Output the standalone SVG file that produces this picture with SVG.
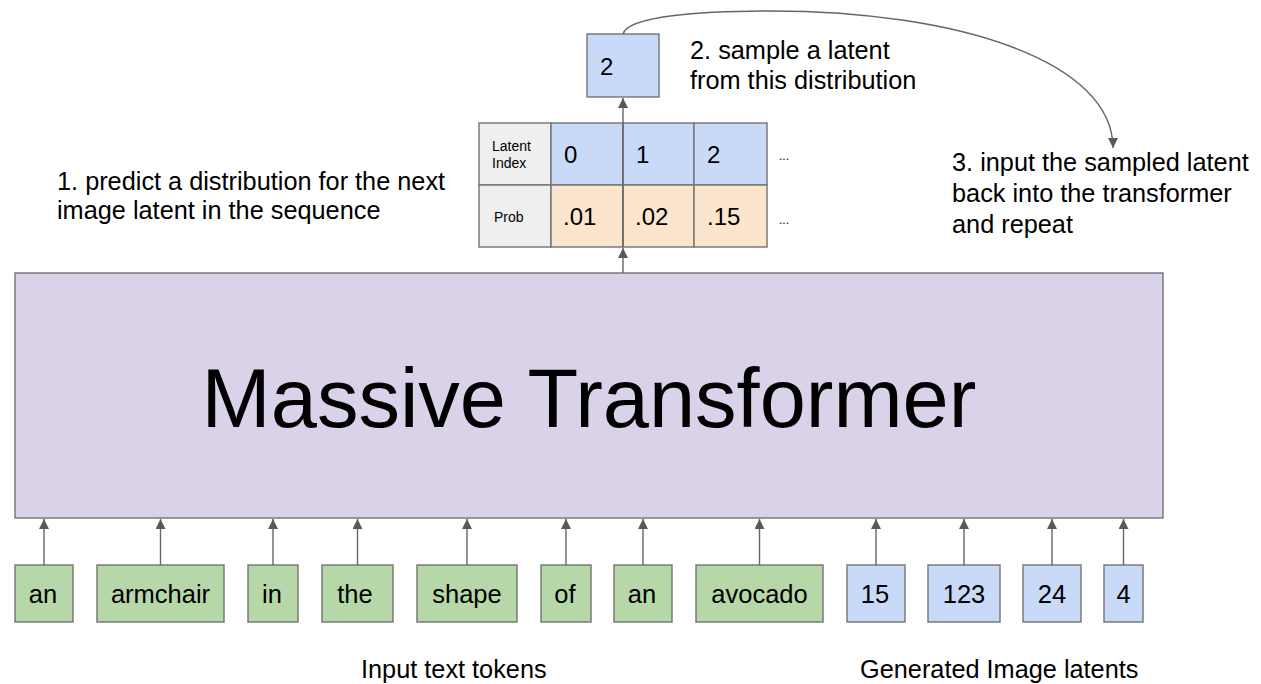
<svg xmlns="http://www.w3.org/2000/svg" width="1261" height="684" viewBox="0 0 1261 684">
<style>
text{font-family:"Liberation Sans",Arial,sans-serif;fill:#000}
.box{stroke:#737373;stroke-width:1.4}
.g{fill:#b6d7a8}
.b{fill:#c9daf8}
.o{fill:#fce5cd}
.l{fill:#efefef}
.tok{font-size:25.5px;text-anchor:middle}
.note{font-size:25.3px}
.num{font-size:24px}
.sm{font-size:14px}
.conn line,.conn path{stroke:#666;stroke-width:1.4;fill:none}
</style>
<defs>
<marker id="ah" markerWidth="10" markerHeight="12" viewBox="0 0 10 12" refX="10" refY="5" orient="auto" markerUnits="userSpaceOnUse">
<path d="M0,0 L10,5 L0,10 Z" fill="#595959"/>
</marker>
</defs>
<rect width="1261" height="684" fill="#fff"/>

<g id="transformer">
<rect class="box" x="15" y="273" width="1148" height="245" fill="#d9d2e9"/>
<text x="589" y="427" font-size="83" text-anchor="middle">Massive Transformer</text>
</g>

<g id="table">
<rect class="box l" x="479" y="123" width="72" height="62"/>
<rect class="box b" x="551" y="123" width="72" height="62"/>
<rect class="box b" x="623" y="123" width="71" height="62"/>
<rect class="box b" x="694" y="123" width="73" height="62"/>
<rect class="box l" x="479" y="185" width="72" height="62"/>
<rect class="box o" x="551" y="185" width="72" height="62"/>
<rect class="box o" x="623" y="185" width="71" height="62"/>
<rect class="box o" x="694" y="185" width="73" height="62"/>
<text class="sm" x="492" y="151">Latent</text>
<text class="sm" x="492" y="168">Index</text>
<text class="sm" x="494" y="222">Prob</text>
<text class="num" x="564" y="163">0</text>
<text class="num" x="636" y="163">1</text>
<text class="num" x="707" y="163">2</text>
<text class="num" x="563" y="225">.01</text>
<text class="num" x="635" y="225">.02</text>
<text class="num" x="707" y="225">.15</text>
<text x="779" y="160" font-size="12" fill="#555">...</text>
<text x="779" y="224" font-size="12" fill="#555">...</text>
</g>

<g id="sample">
<rect class="box b" x="587" y="34" width="72" height="63"/>
<text class="num" x="600" y="75">2</text>
</g>

<g id="notes">
<text class="note" x="57" y="190">1. predict a distribution for the next</text>
<text class="note" x="57" y="219">image latent in the sequence</text>
<text class="note" x="690" y="59">2. sample a latent</text>
<text class="note" x="690" y="89">from this distribution</text>
<text class="note" x="952" y="171">3. input the sampled latent</text>
<text class="note" x="952" y="202">back into the transformer</text>
<text class="note" x="952" y="233">and repeat</text>
<text class="note" x="361" y="678">Input text tokens</text>
<text class="note" x="860" y="678">Generated Image latents</text>
</g>

<g id="tokens">
<g id="t1"><rect class="box g" x="15" y="565" width="58" height="57"/><text class="tok" x="43" y="603">an</text></g>
<g id="t2"><rect class="box g" x="97" y="565" width="127" height="57"/><text class="tok" x="160.5" y="603">armchair</text></g>
<g id="t3"><rect class="box g" x="248" y="565" width="50" height="57"/><text class="tok" x="272" y="603">in</text></g>
<g id="t4"><rect class="box g" x="322" y="565" width="71" height="57"/><text class="tok" x="355" y="603">the</text></g>
<g id="t5"><rect class="box g" x="417" y="565" width="100" height="57"/><text class="tok" x="467" y="603">shape</text></g>
<g id="t6"><rect class="box g" x="541" y="565" width="50" height="57"/><text class="tok" x="565" y="603">of</text></g>
<g id="t7"><rect class="box g" x="614" y="565" width="58" height="57"/><text class="tok" x="642" y="603">an</text></g>
<g id="t8"><rect class="box g" x="696" y="565" width="127" height="57"/><text class="tok" x="759.5" y="603">avocado</text></g>
<g id="l1"><rect class="box b" x="847" y="565" width="58" height="57"/><text class="tok" x="875" y="603">15</text></g>
<g id="l2"><rect class="box b" x="928" y="565" width="72" height="57"/><text class="tok" x="964" y="603">123</text></g>
<g id="l3"><rect class="box b" x="1023" y="565" width="58" height="57"/><text class="tok" x="1052" y="603">24</text></g>
<g id="l4"><rect class="box b" x="1104" y="565" width="39" height="57"/><text class="tok" x="1123.5" y="603">4</text></g>
</g>

<g class="conn" id="connectors">
<line x1="44" y1="565" x2="44" y2="519" marker-end="url(#ah)"/>
<line x1="160.5" y1="565" x2="160.5" y2="519" marker-end="url(#ah)"/>
<line x1="273" y1="565" x2="273" y2="519" marker-end="url(#ah)"/>
<line x1="357.5" y1="565" x2="357.5" y2="519" marker-end="url(#ah)"/>
<line x1="467" y1="565" x2="467" y2="519" marker-end="url(#ah)"/>
<line x1="566" y1="565" x2="566" y2="519" marker-end="url(#ah)"/>
<line x1="643" y1="565" x2="643" y2="519" marker-end="url(#ah)"/>
<line x1="759.5" y1="565" x2="759.5" y2="519" marker-end="url(#ah)"/>
<line x1="876" y1="565" x2="876" y2="519" marker-end="url(#ah)"/>
<line x1="964" y1="565" x2="964" y2="519" marker-end="url(#ah)"/>
<line x1="1052" y1="565" x2="1052" y2="519" marker-end="url(#ah)"/>
<line x1="1123.5" y1="565" x2="1123.5" y2="519" marker-end="url(#ah)"/>
<line x1="623" y1="273" x2="623" y2="248" marker-end="url(#ah)"/>
<line x1="623" y1="247" x2="623" y2="98" marker-end="url(#ah)"/>
<path d="M623,34 C628,16 700,11 770,11 C960,11 1113,62 1113,148" marker-end="url(#ah)"/>
</g>
</svg>
